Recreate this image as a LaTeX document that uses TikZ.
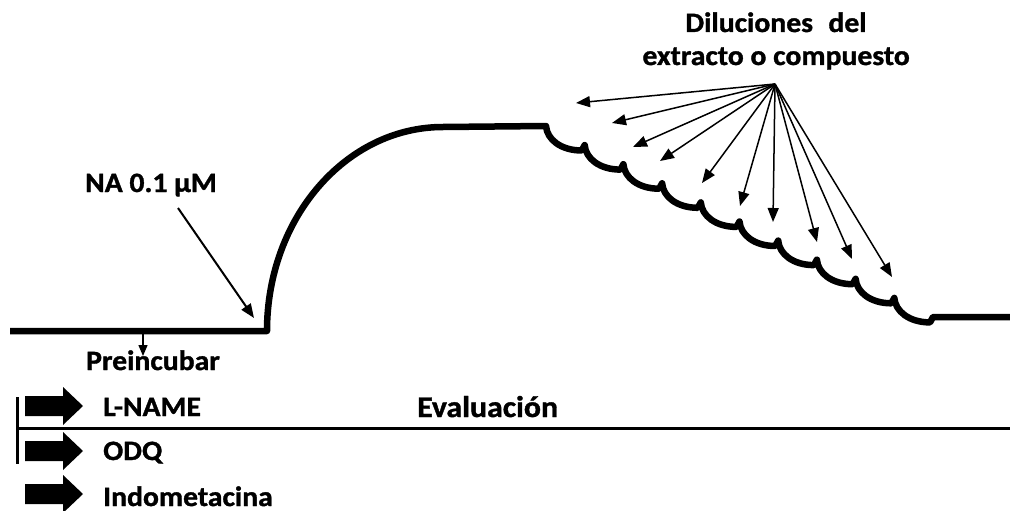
\documentclass[tikz,border=0pt]{standalone}
\usepackage{fontspec}
\setmainfont{Carlito}[FakeStretch=1.06, BoldFeatures={FakeBold=1.2}]
\usetikzlibrary{arrows.meta,calc}
\tikzset{
  curve/.style={line width=6.5pt, line join=round},
  thinarrow/.style={line width=1.5pt, -{Triangle[length=14pt,width=11pt]}},
  lbl/.style={inner sep=0pt, anchor=base west, font=\fontsize{28}{32}\selectfont\bfseries},
  blockarrow/.style={fill=black, draw=none},
  rule/.style={line width=3pt}
}
\begin{document}
\begin{tikzpicture}[x=1pt,y=-1pt]
\useasboundingbox (0,0) rectangle (1010,511);
% main trace
\coordinate (b0) at (10,331);
\coordinate (b1) at (267,331);
\coordinate (p0) at (443,127);
\coordinate (p1) at (546,126);
\coordinate (e0) at (1010,317);
\draw[curve] (b0) -- (b1) .. controls (267,218) and (346,127) .. (p0) -- (p1)
  \foreach [evaluate=\i as \xa using 546+38.7*\i, evaluate=\i as \ya using 126+19.1*\i] \i in {0,...,9} {
    .. controls ({\xa+1},{\ya+13.5}) and ({\xa+15},{\ya+24.5}) .. ({\xa+35.7},{\ya+24.5}) -- ({\xa+38.7},{\ya+19.1})
  } -- (e0);
% labels
\node[lbl] (na) at (85,192) {NA 0.1 µM};
\coordinate (naS) at (178,208);
\coordinate (naT) at (254,318);
\draw[line width=2pt, -{Triangle[length=14pt,width=11pt]}] (naS) -- (naT);
\node[lbl, anchor=base] (dil1) at (776,32) {Diluciones\hspace{0.55em}del};
\node[lbl, anchor=base east] (dil2) at (910,65) {extracto o compuesto};
\coordinate (src) at (775,84);
\foreach \n/\p in {1/{576,103},2/{612,123},3/{633,147},4/{660,161},5/{702,183},6/{740,206},7/{773,222},8/{817,242},9/{852,259},10/{892,277}} {
  \coordinate (t\n) at (\p);
  \draw[thinarrow] (src) -- (t\n);
}
% preincubar
\coordinate (pA) at (143,333);
\coordinate (pB) at (143,356);
\draw[line width=1.5pt, -{Triangle[length=11pt,width=9pt]}] (pA) -- (pB);
\node[lbl] (pre) at (86,370) {Preincubar};
% evaluation lines
\coordinate (v0) at (17,397);
\coordinate (v1) at (17,464);
\coordinate (h0) at (17,428);
\coordinate (h1) at (1010,428);
\draw[rule] (v0) -- (v1);
\draw[rule] (h0) -- (h1);
% block arrows
\foreach \n/\yy in {1/406,2/451,3/494} {
  \fill[blockarrow] (25,\yy-10) -- (63,\yy-10) -- (63,\yy-19) -- (83,\yy) -- (63,\yy+19) -- (63,\yy+10) -- (25,\yy+10) -- cycle;
}
\node[lbl] (lname) at (103,416) {L-NAME};
\node[lbl] (odq) at (103,460) {ODQ};
\node[lbl] (indo) at (103,506) {Indometacina};
\node[lbl, font=\fontsize{30}{34}\selectfont\bfseries] (eval) at (417,417) {Evaluación};
\end{tikzpicture}
\end{document}
